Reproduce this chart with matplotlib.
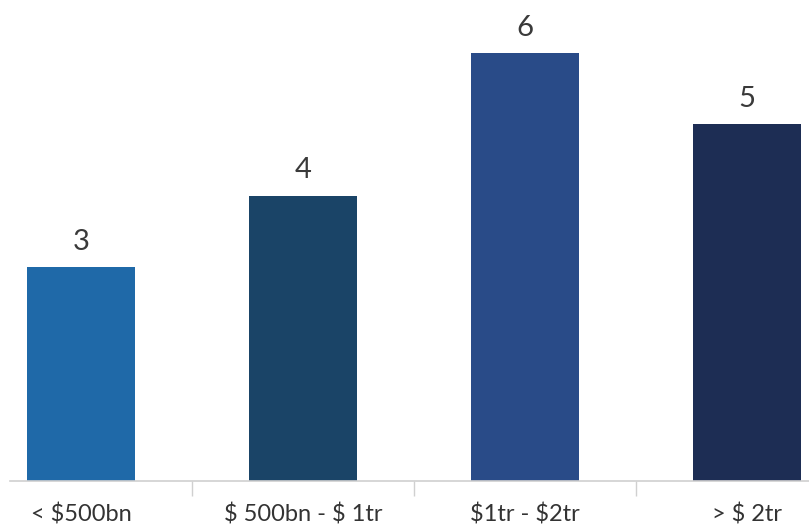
import matplotlib
matplotlib.use("Agg")
import matplotlib.pyplot as plt
import numpy as np

categories = ["< $500bn", "$ 500bn - $ 1tr", "$1tr - $2tr", "> $ 2tr"]
values = [3, 4, 6, 5]
colors = ["#1f69a8", "#1a4467", "#294b88", "#1d2d54"]

plt.rcParams["font.family"] = ["Lato", "DejaVu Sans"]
plt.rcParams["text.parse_math"] = False

W, H = 809, 530
fig = plt.figure(figsize=(W / 100, H / 100), dpi=100)
# axes spans x px 10..809, y px 0..481 (from top)
ax = fig.add_axes([10 / W, 49 / H, 799 / W, 481 / H])

x = np.arange(len(categories))
bars = ax.bar(x, values, width=0.486, color=colors, zorder=2)

ax.set_xlim(-0.32, 3.279)
ax.set_ylim(0, 6.746)

for b, v in zip(bars, values):
    ax.annotate(f"{v}", (b.get_x() + b.get_width() / 2, v), xytext=(0, 9),
                textcoords="offset points", ha="center", va="bottom",
                fontsize=21, color="#3a3a3a")

for s in ["top", "right", "left"]:
    ax.spines[s].set_visible(False)
ax.spines["bottom"].set_color("#d0d0d0")
ax.spines["bottom"].set_linewidth(1.2)
ax.set_yticks([])

# category boundary ticks
ax.set_xticks(x[:-1] + 0.5, minor=True)
ax.tick_params(axis="x", which="minor", length=11, width=1.0, color="#d0d0d0")
ax.set_xticks(x)
ax.set_xticklabels(categories, fontsize=17, color="#333333")
ax.tick_params(axis="x", which="major", length=0, pad=16)

fig.savefig("out.png", dpi=100)
